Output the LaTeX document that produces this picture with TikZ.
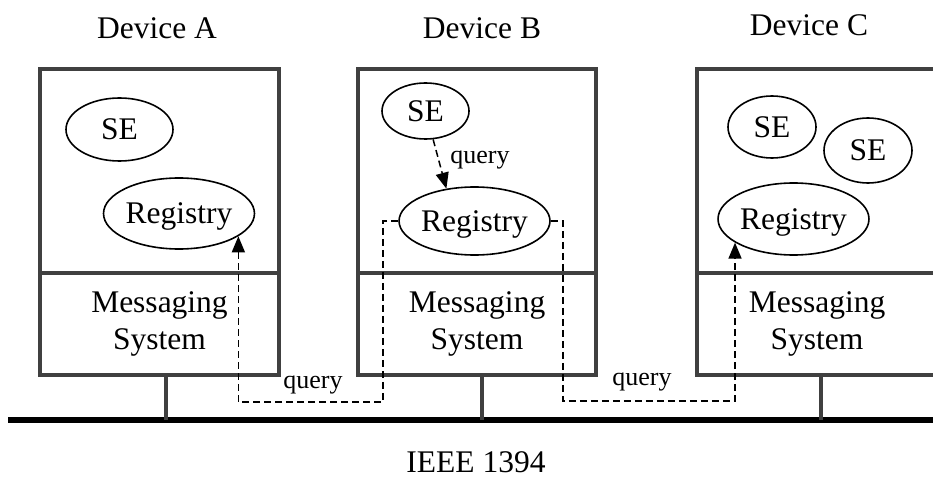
\documentclass[tikz,border=0pt]{standalone}
\usepackage{fontspec}
\setmainfont{Liberation Serif}
\usetikzlibrary{arrows.meta,shapes.geometric}
\definecolor{devgray}{RGB}{64,64,64}
\begin{document}
\begin{tikzpicture}[x=1pt,y=-1pt,
  big/.style={font=\fontsize{31.5}{37}\selectfont},
  small/.style={font=\fontsize{26}{30}\selectfont},
  lbl/.style={inner sep=0pt},
  dev/.style={draw=devgray,line width=4pt,inner sep=0pt},
  ell/.style={draw,ellipse,line width=1.6pt,inner sep=0pt,text depth=0pt,big},
  qline/.style={dash pattern=on 7pt off 4pt,line width=1.5pt},
  tip/.style={-{Triangle[length=16pt,width=13pt]}}]
\useasboundingbox (0,0) rectangle (933,478);
\clip (0,0) rectangle (933,478);

% titles
\node[big,lbl] (tA) at (157,28) {Device A};
\node[big,lbl] (tB) at (482,28) {Device B};
\node[big,lbl] (tC) at (809,25) {Device C};
\node[big,lbl] (ieee) at (476,462) {IEEE 1394};

% device boxes
\node[dev,minimum width=239pt,minimum height=204pt] (topA) at (159.5,171) {};
\node[dev,minimum width=239pt,minimum height=102pt,big,align=center] (msgA) at (159.5,324) {Messaging\\System};
\node[dev,minimum width=238pt,minimum height=204pt] (topB) at (477,171) {};
\node[dev,minimum width=238pt,minimum height=102pt,big,align=center] (msgB) at (477,324) {Messaging\\System};
\node[dev,minimum width=244pt,minimum height=204pt] (topC) at (819,171) {};
\node[dev,minimum width=244pt,minimum height=102pt,big,align=center] (msgC) at (819,324) {\hspace*{-4pt}Messaging\\\hspace*{-4pt}System};

% bus
\coordinate (busL) at (8,420);
\coordinate (busR) at (945,420);
\draw[line width=6pt] (busL) -- (busR);
\coordinate (tapA) at (166,420);
\coordinate (tapB) at (482,420);
\coordinate (tapC) at (821,420);
\draw[draw=devgray,line width=4pt] (tapA |- msgA.south) -- (tapA);
\draw[draw=devgray,line width=4pt] (tapB |- msgB.south) -- (tapB);
\draw[draw=devgray,line width=4pt] (tapC |- msgC.south) -- (tapC);

% ellipses
\node[ell,minimum width=107pt,minimum height=63pt] (seA) at (119.5,129.5) {SE};
\node[ell,minimum width=146pt,minimum height=71pt] (regA) at (179,213.5) {Registry};
\node[ell,minimum width=87pt,minimum height=56pt] (seB) at (425.5,111) {SE};
\node[ell,minimum width=145pt,minimum height=68pt] (regB) at (474.5,221) {Registry};
\node[ell,minimum width=88pt,minimum height=62pt] (seC1) at (772,127) {SE};
\node[ell,minimum width=88pt,minimum height=65pt] (seC2) at (868,150.5) {SE};
\node[ell,minimum width=147pt,minimum height=72pt] (regC) at (793.5,219) {Registry};

% query connectors
\draw[qline,tip] (seB.-75) -- (regB.131);
\node[small,lbl] (qB) at (480,160) {query};

\coordinate (lowA) at (383,402);
\draw[qline,tip] (regB.west) -| (lowA) -| (regA.-21.3);
\node[small,lbl] (qA) at (313,385) {query};

\coordinate (lowC) at (563,401);
\draw[qline,tip] (regB.east) -| (lowC) -| (regC.-158.7);
\node[small,lbl] (qC) at (642,382) {query};
\end{tikzpicture}
\end{document}
